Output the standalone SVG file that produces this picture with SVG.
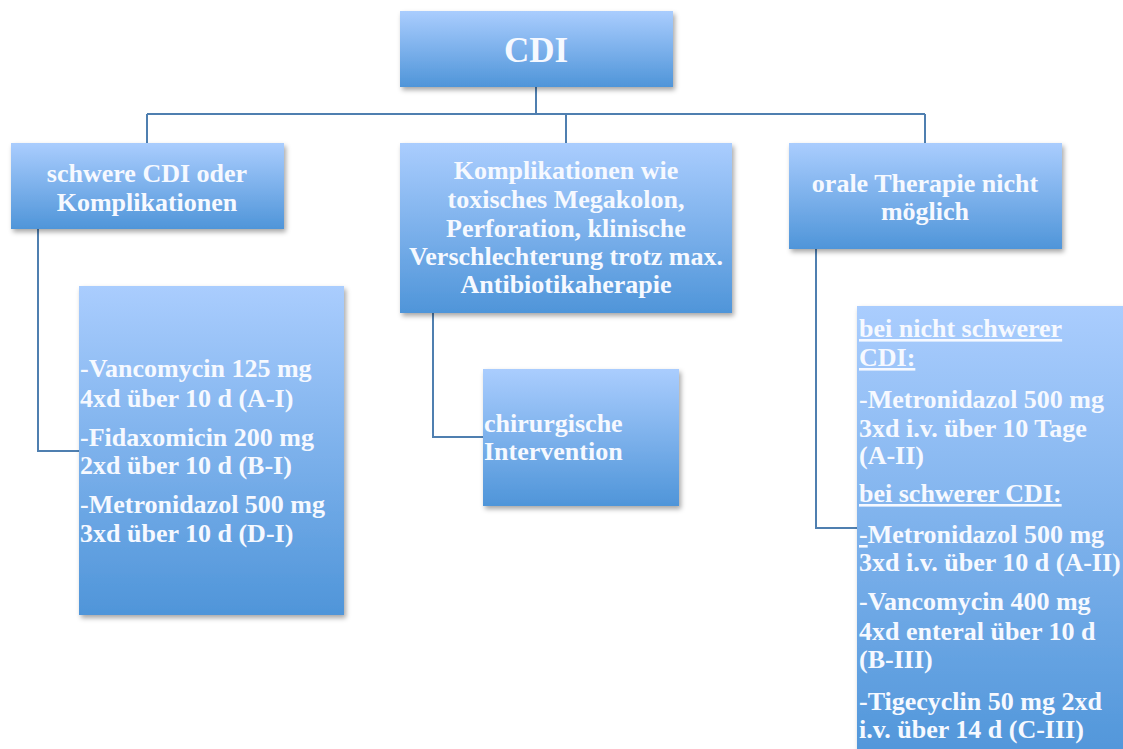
<svg xmlns="http://www.w3.org/2000/svg" width="1123" height="749" viewBox="0 0 1123 749">
<style>
.box{fill:url(#g);filter:url(#sh)}
.t{font-family:"Liberation Serif","Times New Roman",serif;font-weight:bold;font-size:26px;fill:#f6f9ff}
.c{text-anchor:middle}
.u{text-decoration:underline}
.conn{fill:none;stroke:#4f7fb0;stroke-width:2}
</style>
<defs>
<linearGradient id="g" x1="0" y1="0" x2="0" y2="1">
<stop offset="0" stop-color="#aacdfe"/>
<stop offset="1" stop-color="#4f95d9"/>
</linearGradient>
<filter id="sh" x="-10%" y="-10%" width="130%" height="130%">
<feDropShadow dx="2" dy="3" stdDeviation="2.5" flood-color="#000" flood-opacity="0.35"/>
</filter>
</defs>
<rect width="1123" height="749" fill="#fff"/>
<g id="connectors">
<path class="conn" d="M536 87V114M147 114H925M147 114V143M566 114V143M925 114V143"/>
<path class="conn" d="M38 229V451H79"/>
<path class="conn" d="M433 313V437H483"/>
<path class="conn" d="M816 249V528H857"/>
</g>
<g id="cdi">
<rect class="box" x="400" y="11" width="273" height="76"/>
<text class="t c" x="536" y="62" style="font-size:35px">CDI</text>
</g>
<g id="schwere">
<rect class="box" x="11" y="143" width="273" height="86"/>
<text class="t c" x="147" y="182">schwere CDI oder</text>
<text class="t c" x="147" y="211">Komplikationen</text>
</g>
<g id="komplikationen">
<rect class="box" x="400" y="143" width="332" height="170"/>
<text class="t c" x="566" y="179">Komplikationen wie</text>
<text class="t c" x="566" y="208">toxisches Megakolon,</text>
<text class="t c" x="566" y="237">Perforation, klinische</text>
<text class="t c" x="566" y="265">Verschlechterung trotz max.</text>
<text class="t c" x="566" y="293">Antibiotikaherapie</text>
</g>
<g id="oral">
<rect class="box" x="789" y="143" width="273" height="106"/>
<text class="t c" x="925" y="192">orale Therapie nicht</text>
<text class="t c" x="925" y="220">möglich</text>
</g>
<g id="therapie-schwer">
<rect class="box" x="79" y="286" width="265" height="329"/>
<text class="t" x="80" y="377">-Vancomycin 125 mg</text>
<text class="t" x="80" y="407">4xd über 10 d (A-I)</text>
<text class="t" x="80" y="446">-Fidaxomicin 200 mg</text>
<text class="t" x="80" y="474">2xd über 10 d (B-I)</text>
<text class="t" x="80" y="513">-Metronidazol 500 mg</text>
<text class="t" x="80" y="542">3xd über 10 d (D-I)</text>
</g>
<g id="chirurgie">
<rect class="box" x="483" y="369" width="196" height="137"/>
<text class="t" x="484" y="432">chirurgische</text>
<text class="t" x="484" y="460">Intervention</text>
</g>
<g id="therapie-iv">
<rect class="box" x="857" y="306" width="280" height="460"/>
<text class="t u" x="859" y="337">bei nicht schwerer</text>
<text class="t u" x="859" y="366">CDI:</text>
<text class="t" x="859" y="408">-Metronidazol 500 mg</text>
<text class="t" x="859" y="437">3xd i.v. über 10 Tage</text>
<text class="t" x="859" y="464">(A-II)</text>
<text class="t u" x="859" y="502">bei schwerer CDI:</text>
<text class="t" x="859" y="543"><tspan class="u">-</tspan>Metronidazol 500 mg</text>
<text class="t" x="859" y="571">3xd i.v. über 10 d (A-II)</text>
<text class="t" x="859" y="610">-Vancomycin 400 mg</text>
<text class="t" x="859" y="640">4xd enteral über 10 d</text>
<text class="t" x="859" y="668">(B-III)</text>
<text class="t" x="859" y="710">-Tigecyclin 50 mg 2xd</text>
<text class="t" x="859" y="738">i.v. über 14 d (C-III)</text>
</g>
</svg>
